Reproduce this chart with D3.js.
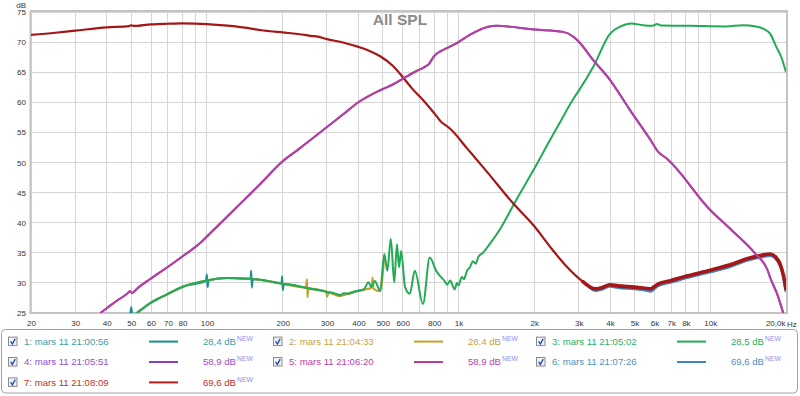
<!DOCTYPE html>
<html><head><meta charset="utf-8">
<script src="https://cdn.jsdelivr.net/npm/d3@7"></script>
<style>body{margin:0;background:#fff}svg{display:block;font-family:"Liberation Sans",Arial,sans-serif}</style>
</head><body><svg id="c" width="800" height="396"></svg>
<script>
// ---------- data ----------
const chartTitle = "All SPL";
const yUnit = "dB";
const xUnit = "Hz";
const xTickValues = [20,30,40,50,60,70,80,100,200,300,400,500,600,800,1000,2000,3000,4000,5000,6000,7000,8000,10000,20000];
const xTickLabels = ["20","30","40","50","60","70","80","100","200","300","400","500","600","800","1k","2k","3k","4k","5k","6k","7k","8k","10k","20,0k"];
const xGridValues = [20,30,40,50,60,70,80,90,100,200,300,400,500,600,700,800,900,1000,2000,3000,4000,5000,6000,7000,8000,9000,10000,20000];
const yTickValues = [25,30,35,40,45,50,55,60,65,70,75];

const seriesNames  = ["1: mars 11 21:00:56","2: mars 11 21:04:33","3: mars 11 21:05:02","4: mars 11 21:05:51","5: mars 11 21:06:20","6: mars 11 21:07:26","7: mars 11 21:08:09"];
const seriesLevels = ["28,4 dB","28,4 dB","28,5 dB","58,9 dB","58,9 dB","69,6 dB","69,6 dB"];

// [frequency Hz, dB]
const series1 = [[49.5,24.4],[50,26.0],[50.6,24.6],[52.6,25],[59.3,26.6],[69.4,28.1],[80.6,29.4],[99,30.3],[100,31.4],[100.6,29.3],[101.5,30.4],[120,30.8],[149,30.7],[150,32.0],[150.8,29.2],[152,30.6],[170,30.4],[198,29.9],[199,31.1],[200.3,28.8],[202,29.8],[247,29.2],[300,28.5],[301,27.8],[303,28.4],[338,28.0],[400,28.7],[420,28.9]];
const series2 = [[52.6,25],[59.3,26.6],[69.4,28.1],[80.6,29.4],[100,30.4],[120,30.8],[148,30.7],[197,29.9],[247,29.2],[250,30.6],[251,27.6],[253,29.0],[298,28.6],[300,27.7],[302,28.4],[338,27.8],[345,27.9],[400,28.7],[452,29.2],[455,30.9],[460,29.0],[488,28.6],[507,34.6]];
const series3 = [[52.6,25],[55,25.6],[59.3,26.6],[65,27.5],[69.4,28.1],[80.6,29.4],[90,30.0],[100,30.4],[120,30.8],[148,30.7],[170,30.4],[197,29.9],[220,29.6],[247,29.2],[270,28.9],[300,28.5],[320,28.3],[338,27.9],[350,28.3],[365,28.2],[381,28.5],[400,28.7],[420,28.9],[439,30.1],[450,29.3],[464,30.3],[488,28.7],[507,34.8],[521,32.0],[538,37.3],[555,30.1],[569,36.4],[580,32.6],[591,35.3],[613,29.3],[640,28.2],[670,32.0],[722,26.5],[768,34.2],[815,32.0],[850,31.0],[880,30.3],[900,29.7],[926,30.4],[950,29.4],[965,28.9],[985,30.0],[1000,29.6],[1030,31.0],[1050,30.6],[1080,32.0],[1110,32.6],[1140,33.6],[1170,33.2],[1200,34.4],[1250,35.0],[1300,35.9],[1450,38.7],[1690,43.7],[2000,49.0],[2300,53.6],[2500,56.3],[2860,60.6],[3000,61.9],[3430,65.9],[4000,71.4],[4400,72.6],[4850,73.1],[5400,72.8],[5900,72.7],[6150,73.0],[6400,72.75],[8300,72.7],[11500,72.6],[13500,72.8],[15200,72.6],[16300,72.2],[17300,71.4],[18300,69.2],[19200,67.4],[20000,65.0]];
const series4 = [[37.7,25],[40,25.8],[43.7,27.0],[47.9,28.1],[49.5,28.6],[50.4,28.3],[52.6,29.0],[59.3,30.6],[69.4,32.55],[80.6,34.5],[94.5,36.7],[100,37.7],[130,42.4],[160,46.1],[200,50.2],[233,52.3],[300,55.9],[350,58.1],[400,60.0],[488,62.0],[550,63.0],[600,63.9],[680,65.2],[735,65.9],[760,66.3],[797,67.6],[898,69.0],[980,69.8],[1130,71.4],[1300,72.5],[1420,72.7],[2000,72.1],[2600,71.7],[2860,70.9],[3000,70.1],[3430,67.0],[4000,63.7],[4800,58.7],[5800,53.7],[6200,51.8],[6700,50.7],[10000,42.1],[12200,38.7],[15000,35.0],[16900,32.1],[17300,30.9],[18500,28.0],[19500,25.0]];
const series5 = series4;
const series6 = [[3300,29.3],[3500,28.7],[3700,28.9],[4000,29.4],[4300,29.2],[5000,29.0],[5500,28.8],[5800,28.6],[6000,29.0],[6200,29.5],[7000,30.1],[8000,30.8],[10000,31.8],[12000,32.7],[14000,33.7],[16000,34.3],[17300,34.5],[18200,34.0],[19000,32.7],[19600,30.7],[20000,28.5]];
const series7 = [[20,71.2],[25,71.55],[30,71.9],[40,72.45],[49,72.65],[50,72.8],[51,72.68],[60,72.95],[70,73.05],[80,73.1],[100,73.0],[130,72.6],[178,71.8],[200,71.6],[245,71.2],[262,71.0],[272,70.95],[300,70.5],[350,69.9],[400,69.2],[450,68.4],[490,67.6],[550,66.0],[600,64.2],[650,62.4],[725,60.3],[800,58.2],[860,56.6],[880,56.3],[926,55.6],[1080,52.35],[1300,48.4],[1640,43.3],[2000,39.4],[2300,36.1],[2670,32.85],[3100,30.3],[3500,29.0],[3700,29.2],[4000,29.7],[4300,29.5],[5000,29.3],[5500,29.1],[5800,29.0],[6000,29.4],[6200,29.8],[7000,30.4],[8000,31.1],[10000,32.1],[12000,33.0],[14000,34.0],[16000,34.6],[17300,34.8],[18200,34.3],[19000,33.0],[19600,31.0],[20000,28.8]];

const seriesData = [series1,series2,series3,series4,series5,series6,series7];

// ---------- styles ----------
const curveColors  = ["#1a8f8f","#c8a02a","#22aa55","#8a3fc0","#b5409f","#3f86c0","#a51717"];
const legendLineColors = ["#1a8f8f","#c8a02a","#22aa55","#8a3fc0","#c03a98","#3f86c0","#c41818"];
const textColors   = ["#3e9e9e","#c8a040","#2ab060","#9050c8","#c040a8","#4f90c0","#c03030"];
const drawOrder = [0,1,2,5,6,3,4];

const svg = d3.select("#c");
const L = 31, R = 786, T = 12, B = 313;
const x = d3.scaleLog().domain([20,20000]).range([L,R]);
const y = d3.scaleLinear().domain([25,75]).range([B,T]);

// grid
svg.append("g").selectAll("line").data(xGridValues).join("line")
  .attr("x1",d=>x(d)).attr("x2",d=>x(d)).attr("y1",T).attr("y2",B)
  .attr("stroke","#d6d6d6").attr("stroke-width",1).attr("shape-rendering","crispEdges");
svg.append("g").selectAll("line").data(yTickValues).join("line")
  .attr("x1",L).attr("x2",R).attr("y1",d=>y(d)).attr("y2",d=>y(d))
  .attr("stroke","#d6d6d6").attr("stroke-width",1).attr("shape-rendering","crispEdges");

// frame
svg.append("rect").attr("x",L-0.5).attr("y",T-1).attr("width",R-L+1.5).attr("height",B-T+1)
  .attr("fill","none").attr("stroke","#c4c4c4").attr("stroke-width",2);

// title
svg.append("text").attr("x",400).attr("y",25).attr("text-anchor","middle")
  .attr("font-size",15.5).attr("font-weight","bold").attr("fill","#8a8a8a").text(chartTitle);

// axes
const xAxis = d3.axisBottom(x).tickValues(xTickValues).tickFormat((d,i)=>xTickLabels[i]).tickSize(0).tickPadding(0);
const gx = svg.append("g").attr("transform",`translate(0,${B+7})`).call(xAxis);
gx.select(".domain").remove();
gx.selectAll("text").attr("font-size",8).attr("fill","#333").attr("font-family","Liberation Sans, Arial, sans-serif");
gx.selectAll(".tick").filter(d=>d===20000).select("text").attr("text-anchor","end").attr("dx",-1);
svg.append("text").attr("x",787).attr("y",B+14).attr("font-size",8).attr("fill","#333").text(xUnit);

const yAxis = d3.axisLeft(y).tickValues(yTickValues).tickSize(0).tickPadding(5);
const gy = svg.append("g").attr("transform",`translate(${L},0)`).call(yAxis);
gy.select(".domain").remove();
gy.selectAll("text").attr("font-size",8).attr("fill","#333").attr("font-family","Liberation Sans, Arial, sans-serif");
svg.append("text").attr("x",26).attr("y",7.5).attr("text-anchor","end").attr("font-size",8).attr("fill","#333").text(yUnit);

// curves
svg.append("clipPath").attr("id","clip").append("rect").attr("x",L).attr("y",T).attr("width",R-L).attr("height",B-T);
const line = d3.line().x(d=>x(d[0])).y(d=>y(d[1])).curve(d3.curveMonotoneX);
const cg = svg.append("g").attr("clip-path","url(#clip)");
drawOrder.forEach(i=>{
  const w = (i===6)?2.2:(i===5?2.6:2);
  cg.append("path").datum(seriesData[i]).attr("d",line).attr("fill","none")
    .attr("stroke",curveColors[i]).attr("stroke-width",w).attr("stroke-linejoin","round");
  if(i===6){
    cg.append("path").datum(seriesData[i].filter(d=>d[0]>=3100)).attr("d",line).attr("fill","none")
      .attr("stroke",curveColors[i]).attr("stroke-width",3.6).attr("stroke-linejoin","round");
  }
});

// legend
svg.append("rect").attr("x",1.5).attr("y",329.5).attr("width",796).attr("height",63.5).attr("rx",4)
  .attr("fill","#fff").attr("stroke","#a0a0a0").attr("stroke-width",1);
const groupX = [8,273,536];
const rowY = [341.6,362,382.4];
seriesNames.forEach((name,i)=>{
  const gx0 = groupX[i%3], cy = rowY[Math.floor(i/3)];
  const g = svg.append("g");
  g.append("rect").attr("x",gx0+0.5).attr("y",cy-4.5).attr("width",8.5).attr("height",8.5)
    .attr("fill","#eef2fa").attr("stroke","#8a8a8a").attr("stroke-width",1);
  g.append("path").attr("d",`M${gx0+2.6},${cy-0.2} L${gx0+4.4},${cy+2.4} L${gx0+7.2},${cy-2.8}`)
    .attr("fill","none").attr("stroke","#2b4fa6").attr("stroke-width",1.4);
  g.append("text").attr("x",gx0+16).attr("y",cy+3.4).attr("font-size",9.6).attr("fill",textColors[i]).text(name);
  g.append("line").attr("x1",gx0+141).attr("x2",gx0+170).attr("y1",cy).attr("y2",cy)
    .attr("stroke",legendLineColors[i]).attr("stroke-width",2);
  g.append("text").attr("x",gx0+228).attr("y",cy+3.4).attr("text-anchor","end").attr("font-size",9.6).attr("fill",textColors[i]).text(seriesLevels[i]);
  g.append("text").attr("x",gx0+229).attr("y",cy-0.8).attr("font-size",6.8).attr("fill","#8c8cf0").text("NEW");
});
</script></body></html>
